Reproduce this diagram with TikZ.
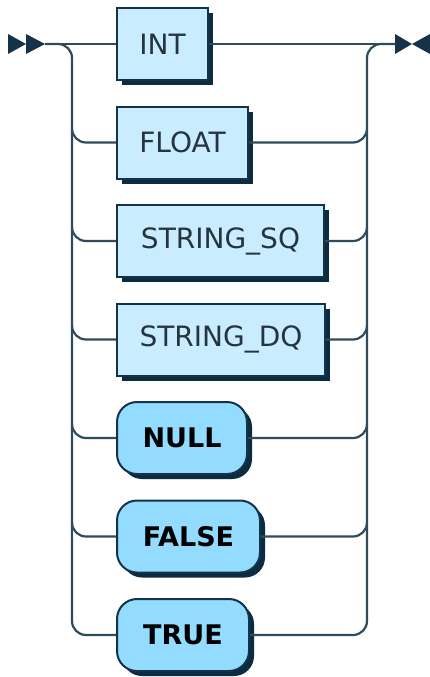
\documentclass[tikz,border=0pt]{standalone}
\usepackage{fontspec}
\setmainfont{DejaVu Sans}
\usetikzlibrary{shadows,calc}

\definecolor{rrline}{HTML}{2F4B5C}
\definecolor{rrborder}{HTML}{143348}
\definecolor{rrshadow}{HTML}{0B2B40}
\definecolor{rrnontfill}{HTML}{C9ECFF}
\definecolor{rrtermfill}{HTML}{93DBFF}
\definecolor{rrtext}{HTML}{26343E}

\tikzset{
  rrwire/.style={draw=rrline,line width=2.2pt},
  rrbox/.style={draw=rrborder,line width=2pt,minimum height=72pt,inner sep=0pt,
    drop shadow={shadow xshift=5pt,shadow yshift=-5pt,fill=rrshadow,opacity=1}},
  rrnont/.style={rrbox,fill=rrnontfill,text=rrtext,
    font=\fontsize{28}{32}\selectfont},
  rrterm/.style={rrbox,fill=rrtermfill,rounded corners=20pt,text=black,
    font=\bfseries\fontsize{27}{31}\selectfont},
}

\begin{document}
\begin{tikzpicture}[x=1pt,y=-1pt]
  \useasboundingbox (0,0) rectangle (430,677);

  % entry and exit markers
  \fill[rrborder] (8,34) -- (26,44) -- (8,54) -- cycle;
  \fill[rrborder] (26,34) -- (45,44) -- (26,54) -- cycle;
  \fill[rrborder] (395,34) -- (412,44) -- (395,54) -- cycle;
  \fill[rrborder] (430,34) -- (412,44) -- (430,54) -- cycle;

  \coordinate (start) at (45,44);
  \coordinate (lbus) at (72,44);
  \coordinate (rbus) at (367,44);
  \coordinate (stop) at (395,44);

  % choice boxes, one per row
  \foreach \name/\y/\w/\lab/\kind in {
    int/44/91/{INT}/rrnont,
    float/142.5/131/{FLOAT}/rrnont,
    strsq/241/207/{STRING\_SQ}/rrnont,
    strdq/339.5/208/{STRING\_DQ}/rrnont,
    null/438/130/{NULL}/rrterm,
    false/536.5/143/{FALSE}/rrterm,
    true/635/132/{TRUE}/rrterm%
  }{
    \node[\kind,minimum width=\w pt,anchor=west] (\name) at (116,\y) {\lab};
  }

  % straight path
  \draw[rrwire] (start) -- (int.west);
  \draw[rrwire] (int.east) -- (stop);

  % outer branch with both buses
  \draw[rrwire,rounded corners=14pt] (start) -| (true.west -| lbus) -- (true.west);
  \draw[rrwire,rounded corners=14pt] (true.east) -| (rbus) -- (stop);

  % inner branches leave and join the buses
  \foreach \name in {float,strsq,strdq,null,false}{
    \draw[rrwire,rounded corners=14pt] ($(\name.west -| lbus)+(0,-14)$) |- (\name.west);
    \draw[rrwire,rounded corners=14pt] (\name.east) -| ($(\name.east -| rbus)+(0,-14)$);
  }
\end{tikzpicture}
\end{document}
